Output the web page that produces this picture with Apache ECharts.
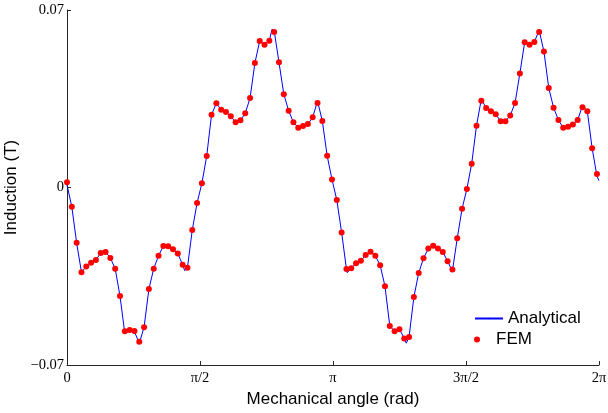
<!DOCTYPE html>
<html>
<head>
<meta charset="utf-8">
<title>Induction vs mechanical angle</title>
<script src="https://cdn.jsdelivr.net/npm/echarts@6/dist/echarts.min.js"></script>
<style>
  html, body { margin: 0; padding: 0; background: #fff; }
  #chart { width: 608px; height: 413px; }
</style>
</head>
<body>
<div id="chart"></div>
<script>
// Angular step between FEM samples (rad)
const FEM_STEP = 0.0569;

// FEM air-gap induction (T), one value per sample
const femValues = [
  0.0021, -0.0076, -0.0218, -0.0334, -0.0312, -0.0297, -0.0286, -0.0258, -0.0254, -0.0278,
  -0.0320, -0.0428, -0.0567, -0.0562, -0.0566, -0.0608, -0.0551, -0.0400, -0.0320, -0.0269,
  -0.0231, -0.0232, -0.0244, -0.0260, -0.0305, -0.0316, -0.0168, -0.0061, 0.0017, 0.0124,
  0.0287, 0.0332, 0.0307, 0.0298, 0.0281, 0.0257, 0.0265, 0.0293, 0.0353, 0.0491,
  0.0578, 0.0563, 0.0579, 0.0613, 0.0494, 0.0368, 0.0303, 0.0257, 0.0236, 0.0243,
  0.0250, 0.0277, 0.0333, 0.0262, 0.0125, 0.0032, -0.0049, -0.0177, -0.0321, -0.0318,
  -0.0299, -0.0289, -0.0266, -0.0253, -0.0269, -0.0307, -0.0389, -0.0546, -0.0567, -0.0559,
  -0.0595, -0.0590, -0.0432, -0.0337, -0.0279, -0.0241, -0.0230, -0.0241, -0.0254, -0.0291,
  -0.0323, -0.0200, -0.0084, -0.0006, 0.0094, 0.0244, 0.0342, 0.0314, 0.0301, 0.0289,
  0.0261, 0.0261, 0.0284, 0.0333, 0.0450, 0.0573, 0.0563, 0.0574, 0.0613, 0.0536,
  0.0392, 0.0315, 0.0266, 0.0236, 0.0240, 0.0248, 0.0266, 0.0316, 0.0301, 0.0155,
  0.0053
];

// Analytical induction (T) on the same angular grid
const analyticalValues = [
  0.0010, -0.0076, -0.0218, -0.0334, -0.0312, -0.0297, -0.0286, -0.0258, -0.0254, -0.0278,
  -0.0320, -0.0428, -0.0575, -0.0565, -0.0568, -0.0615, -0.0551, -0.0400, -0.0320, -0.0269,
  -0.0231, -0.0232, -0.0244, -0.0260, -0.0305, -0.0316, -0.0168, -0.0061, 0.0017, 0.0124,
  0.0287, 0.0332, 0.0307, 0.0298, 0.0281, 0.0257, 0.0265, 0.0293, 0.0353, 0.0491,
  0.0578, 0.0563, 0.0579, 0.0618, 0.0494, 0.0368, 0.0303, 0.0257, 0.0236, 0.0243,
  0.0250, 0.0277, 0.0341, 0.0262, 0.0125, 0.0032, -0.0049, -0.0177, -0.0321, -0.0318,
  -0.0299, -0.0289, -0.0266, -0.0253, -0.0269, -0.0307, -0.0389, -0.0546, -0.0567, -0.0559,
  -0.0595, -0.0590, -0.0432, -0.0337, -0.0279, -0.0241, -0.0230, -0.0241, -0.0254, -0.0291,
  -0.0330, -0.0200, -0.0084, -0.0006, 0.0094, 0.0244, 0.0348, 0.0314, 0.0301, 0.0289,
  0.0261, 0.0261, 0.0284, 0.0333, 0.0450, 0.0573, 0.0563, 0.0574, 0.0620, 0.0536,
  0.0392, 0.0315, 0.0266, 0.0236, 0.0240, 0.0248, 0.0266, 0.0323, 0.0301, 0.0155,
  0.0045
];

// Extra analytical vertices between samples: [angle (rad), induction (T)]
const analyticalExtra = [
  [1.390, -0.0328],
  [2.421, 0.0624],
  [3.310, -0.0336],
  [4.007, -0.0614],
  [2 * Math.PI, 0.0027]
];

const xTickLabels = ['0', 'π/2', 'π', '3π/2', '2π'];
const yTickLabels = { '-0.07': '\u22120.07', '0': '0', '0.07': '0.07' };

const femData = femValues.map((v, i) => [i * FEM_STEP, v]);
const analyticalData = analyticalValues
  .map((v, i) => [i * FEM_STEP, v])
  .concat(analyticalExtra)
  .sort((a, b) => a[0] - b[0]);

const serif = "'Liberation Serif', 'Times New Roman', serif";
const sans = "'Liberation Sans', Arial, sans-serif";

const chart = echarts.init(document.getElementById('chart'), null, { renderer: 'canvas' });

const axisCommon = {
  axisLine: { show: true, onZero: false, lineStyle: { color: '#262626', width: 1 } },
  axisTick: { show: true, inside: true, length: 4, lineStyle: { color: '#262626', width: 1 } },
  splitLine: { show: false },
  nameLocation: 'middle',
  nameTextStyle: { fontFamily: sans, fontSize: 17, color: '#000' }
};

chart.setOption({
  animation: false,
  backgroundColor: '#fff',
  grid: {
    left: 67, right: 9, top: 10, bottom: 48,
    containLabel: false,
    outerBoundsMode: 'none'
  },
  xAxis: Object.assign({}, axisCommon, {
    type: 'value',
    min: 0,
    max: 2 * Math.PI,
    interval: Math.PI / 2,
    name: 'Mechanical angle (rad)',
    nameGap: 20,
    axisLabel: {
      margin: 6,
      fontFamily: serif,
      fontSize: 14.5,
      color: '#000',
      formatter: v => xTickLabels[Math.round(v / (Math.PI / 2))] || ''
    }
  }),
  yAxis: Object.assign({}, axisCommon, {
    type: 'value',
    min: -0.07,
    max: 0.07,
    interval: 0.07,
    name: 'Induction (T)',
    nameGap: 39,
    nameRotate: 90,
    axisLabel: {
      margin: 3,
      fontFamily: serif,
      fontSize: 14.5,
      color: '#000',
      formatter: v => yTickLabels[String(Math.round(v * 100) / 100)] || ''
    }
  }),
  legend: [
    {
      data: ['Analytical'],
      left: 474,
      top: 310,
      padding: 0,
      itemWidth: 28,
      itemHeight: 2,
      itemGap: 0,
      textStyle: { fontFamily: sans, fontSize: 17, color: '#000' },
      selectedMode: false
    },
    {
      data: ['FEM'],
      left: 474,
      top: 331,
      padding: 0,
      itemWidth: 28,
      itemHeight: 6,
      itemGap: 0,
      textStyle: { fontFamily: sans, fontSize: 17, color: '#000' },
      selectedMode: false
    }
  ],
  series: [
    {
      name: 'Analytical',
      type: 'line',
      data: analyticalData,
      symbol: 'none',
      lineStyle: { color: '#0000ff', width: 1 },
      itemStyle: { color: '#0000ff' },
      z: 2
    },
    {
      name: 'FEM',
      type: 'scatter',
      data: femData,
      symbol: 'circle',
      symbolSize: 6,
      itemStyle: { color: '#ff0000', opacity: 1 },
      z: 3
    }
  ]
});
</script>
</body>
</html>
